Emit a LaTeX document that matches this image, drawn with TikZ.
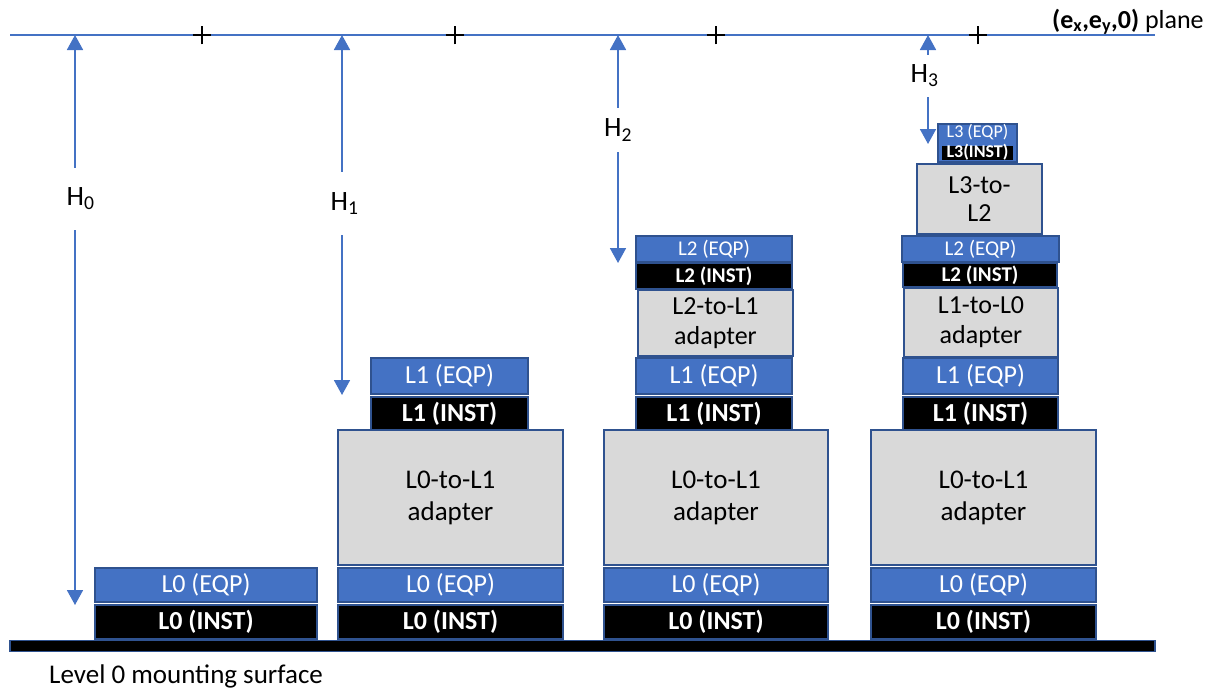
\documentclass[tikz,border=0pt]{standalone}
\usepackage{fontspec}
\setmainfont{Carlito}
\usetikzlibrary{arrows.meta,shapes.misc}
\definecolor{eqpblue}{HTML}{4472C4}
\definecolor{edgeblue}{HTML}{2F528F}
\definecolor{adgray}{HTML}{D9D9D9}
\definecolor{dimblue}{HTML}{4472C4}
\begin{document}
\begin{tikzpicture}[x=1pt,y=-1pt,
  box/.style={draw=edgeblue, line width=1.8pt, inner sep=0pt, anchor=center},
  eqpbox/.style={box, fill=eqpblue, text=white, font=\fontsize{26}{28}\selectfont},
  instbox/.style={box, fill=black, text=white, font=\bfseries\fontsize{26}{28}\selectfont},
  adbox/.style={box, fill=adgray, text=black, align=center, font=\fontsize{27}{32}\selectfont},
  small/.style={font=\fontsize{21}{23}\selectfont},
  smallb/.style={font=\bfseries\fontsize{21}{23}\selectfont},
  dimarrow/.style={draw=dimblue, line width=1.8pt, -{Triangle[width=16pt,length=15pt]}},
  hlab/.style={font=\fontsize{28}{30}\selectfont, inner sep=0pt, anchor=center},
  plus/.style={draw=black, cross out, rotate=45, line width=1.3pt, minimum size=12pt, inner sep=0pt},
  S1/.style={minimum width=222pt},
  S2/.style={minimum width=225pt},
  S3/.style={minimum width=224pt},
  S4/.style={minimum width=225pt}]
\useasboundingbox (0,0) rectangle (1215,691);

% plane line
\coordinate (pl) at (10,35);
\coordinate (pr) at (1155,35);
\draw[draw=dimblue, line width=1.5pt] (pl) -- (pr);
\node[anchor=base west, inner sep=0pt, font=\fontsize{26}{28}\selectfont] (planelab) at (1052,28)
  {\textbf{(e\textsubscript{x},e\textsubscript{y},0)} plane};
\node[plus] (p1) at (202,35) {};
\node[plus] (p2) at (455,35) {};
\node[plus] (p3) at (716,35) {};
\node[plus] (p4) at (978,35) {};

% ground
\node[draw=edgeblue, fill=black, line width=1.8pt, minimum width=1145pt, minimum height=11pt, inner sep=0pt] (ground) at (582.5,646) {};
\node[anchor=base west, inner sep=0pt, font=\fontsize{27}{29}\selectfont] (groundlab) at (49,683) {Level 0 mounting surface};

% stack 1
\node[instbox, S1, minimum height=34pt] (s1i0) at (206,622) {L0 (INST)};
\node[eqpbox, S1, minimum height=34pt] (s1e0) at (206,585) {L0 (EQP)};

% stack 2
\node[instbox, S2, minimum height=34pt] (s2i0) at (450.5,622) {L0 (INST)};
\node[eqpbox, S2, minimum height=34pt] (s2e0) at (450.5,585) {L0 (EQP)};
\node[adbox, S2, minimum height=135pt] (s2a1) at (450.5,497.5) {L0-to-L1\\adapter};
\node[instbox, minimum width=157pt, minimum height=33pt] (s2i1) at (449.5,413.5) {L1 (INST)};
\node[eqpbox, minimum width=157pt, minimum height=36pt] (s2e1) at (449.5,376) {L1 (EQP)};

% stack 3
\node[instbox, S3, minimum height=34pt] (s3i0) at (716,622) {L0 (INST)};
\node[eqpbox, S3, minimum height=34pt] (s3e0) at (716,585) {L0 (EQP)};
\node[adbox, S3, minimum height=135pt] (s3a1) at (716,497.5) {L0-to-L1\\adapter};
\node[instbox, minimum width=156pt, minimum height=33pt] (s3i1) at (714,413.5) {L1 (INST)};
\node[eqpbox, minimum width=156pt, minimum height=36pt] (s3e1) at (714,376) {L1 (EQP)};
\node[adbox, minimum width=155pt, minimum height=66pt, font=\fontsize{26}{30}\selectfont] (s3a2) at (715.5,323) {L2-to-L1\\adapter};
\node[instbox, smallb, minimum width=156pt, minimum height=26pt] (s3i2) at (714,276) {L2 (INST)};
\node[eqpbox, small, minimum width=156pt, minimum height=26pt] (s3e2) at (714,249) {L2 (EQP)};

% stack 4
\node[instbox, S4, minimum height=34pt] (s4i0) at (983.5,622) {L0 (INST)};
\node[eqpbox, S4, minimum height=34pt] (s4e0) at (983.5,585) {L0 (EQP)};
\node[adbox, S4, minimum height=135pt] (s4a1) at (983.5,497.5) {L0-to-L1\\adapter};
\node[instbox, minimum width=155pt, minimum height=33pt] (s4i1) at (980.5,413.5) {L1 (INST)};
\node[eqpbox, minimum width=155pt, minimum height=36pt] (s4e1) at (980.5,376) {L1 (EQP)};
\node[adbox, minimum width=154pt, minimum height=69pt, font=\fontsize{26}{30}\selectfont] (s4a2) at (981,322.5) {L1-to-L0\\adapter};
\node[instbox, smallb, minimum width=154pt, minimum height=24pt] (s4i2) at (980,275) {L2 (INST)};
\node[eqpbox, small, minimum width=157pt, minimum height=26pt] (s4e2) at (980.5,249) {L2 (EQP)};
\node[adbox, minimum width=125pt, minimum height=70pt, font=\fontsize{26}{28}\selectfont] (s4a3) at (979.5,199) {L3-to-\\L2};
\node[box, fill=eqpblue, minimum width=79pt, minimum height=38pt] (s4l3) at (977.5,143) {};
\node[text=white, inner sep=0pt, text height=11pt, text depth=2pt, font=\fontsize{18}{20}\selectfont] (s4e3) at (977.5,133) {L3 (EQP)};
\node[fill=black, text=white, inner sep=0pt, minimum width=71pt, text height=11pt, text depth=3pt, font=\bfseries\fontsize{18}{20}\selectfont] (s4i3) at (977.5,153) {L3(INST)};

% dimension arrows
\coordinate (h0t) at (75,35);  \coordinate (h0b) at (75,605);
\coordinate (h1t) at (342,35); \coordinate (h1b) at (342,395);
\coordinate (h2t) at (618,35); \coordinate (h2b) at (618,263);
\coordinate (h3t) at (928,35); \coordinate (h3b) at (928,144);

\node[hlab, minimum height=62pt] (H0) at (80.5,199) {H\textsubscript{0}};
\node[hlab, minimum height=63pt] (H1) at (344.5,203.5) {H\textsubscript{1}};
\node[hlab, minimum height=44pt] (H2) at (618,130) {H\textsubscript{2}};
\node[hlab, minimum height=42pt] (H3) at (924.5,76) {H\textsubscript{3}};

\draw[dimarrow] (H0.north -| h0t) -- (h0t);
\draw[dimarrow] (H0.south -| h0b) -- (h0b);
\draw[dimarrow] (H1.north -| h1t) -- (h1t);
\draw[dimarrow] (H1.south -| h1b) -- (h1b);
\draw[dimarrow] (H2.north -| h2t) -- (h2t);
\draw[dimarrow] (H2.south -| h2b) -- (h2b);
\draw[dimarrow] (H3.north -| h3t) -- (h3t);
\draw[dimarrow] (H3.south -| h3b) -- (h3b);
\end{tikzpicture}
\end{document}
